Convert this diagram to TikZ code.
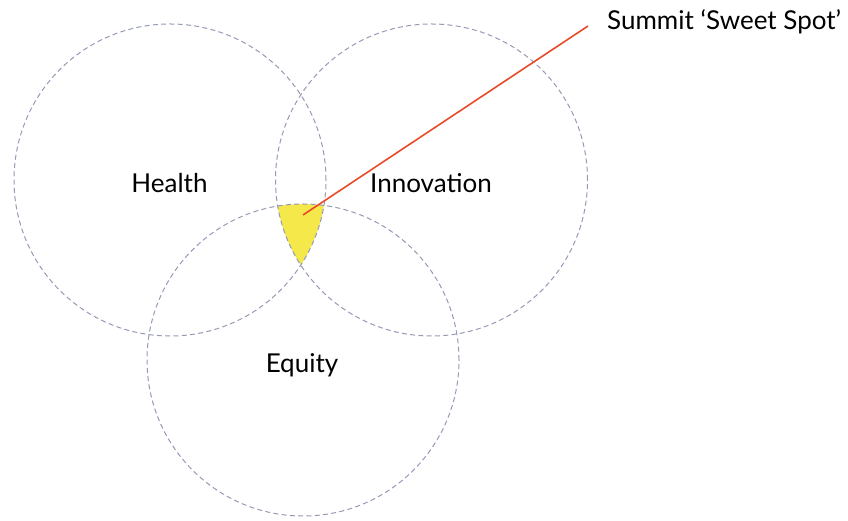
\documentclass[tikz,border=0pt]{standalone}
\usepackage{fontspec}
\setmainfont{Lato}
\definecolor{ringgray}{HTML}{959AB5}
\definecolor{spotyellow}{HTML}{F5E84A}
\definecolor{pointred}{HTML}{E84A2A}
\tikzset{
  ring/.style={draw=ringgray, line width=1pt, dash pattern=on 5pt off 3.3pt},
  label/.style={font=\fontsize{26}{30}\selectfont, anchor=base, inner sep=0pt}
}
\begin{document}
\begin{tikzpicture}[x=1pt,y=1pt]
      \useasboundingbox (0,0) rectangle (848,521);
      \coordinate (h) at (170,341);
      \coordinate (i) at (431.5,341);
      \coordinate (e) at (303,161);
      \begin{scope}
        \clip (h) circle (156);
        \clip (i) circle (156);
        \fill[spotyellow] (e) circle (156);
      \end{scope}
      \draw[ring] (h) circle (156);
      \draw[ring] (i) circle (156);
      \draw[ring] (e) circle (156);
      \draw
        (169.5,328) node[label] (health){Health}
        (431,328) node[label] (innovation){Innovation}
        (302,148) node[label] (equity){Equity}
        (607,491) node[label, anchor=base west] (summit){Summit ‘Sweet Spot’};
      \coordinate (spot) at (303,306);
      \coordinate (tip) at (588,495);
      \draw[pointred, line width=1.6pt] (spot) -- (tip);
    \end{tikzpicture}
\end{document}
